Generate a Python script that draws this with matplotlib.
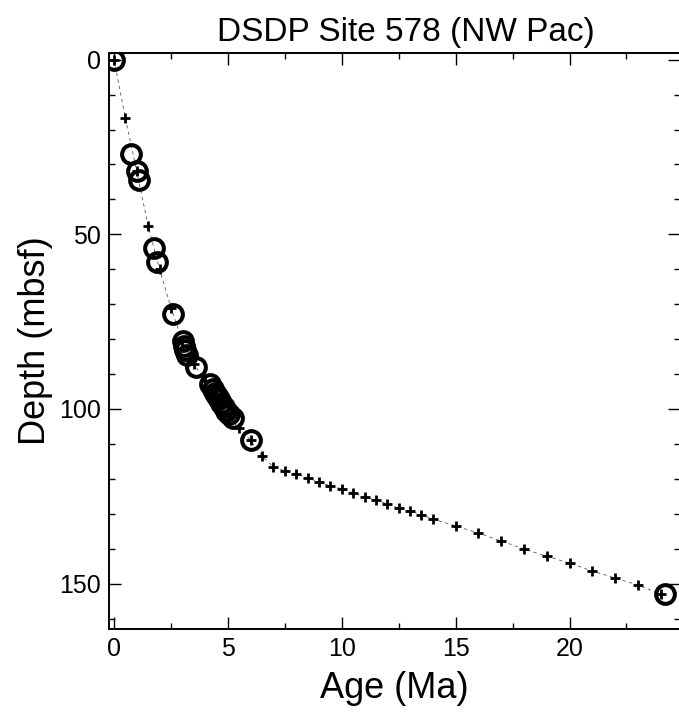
import numpy as np
import matplotlib
matplotlib.use("Agg")
import matplotlib.pyplot as plt
from matplotlib.ticker import MultipleLocator

# ── data ───────────────────────────────────────────────────────────────────────
# biostratigraphic / magnetostratigraphic datums (circles)
datum_age = [0.0, 0.75, 1.01, 1.10, 1.75, 1.89, 2.59, 3.03, 3.07, 3.11, 3.20,
             3.60, 4.21, 4.34, 4.43, 4.52, 4.61, 4.69, 4.82, 4.91, 5.04, 5.22,
             6.01, 24.17]
datum_depth = [0.0, 27.0, 31.9, 34.5, 53.9, 57.9, 72.8, 80.5, 82.0, 83.1, 84.5,
               88.0, 92.8, 94.3, 95.4, 96.3, 97.1, 98.3, 99.4, 100.6, 101.4, 102.6,
               108.9, 153.0]

# age model nodes (crosses)
model_age = [0.0, 0.5, 1.0, 1.5, 2.0, 2.5, 3.0, 3.5, 4.0, 4.5, 5.0, 5.5, 6.0,
             6.5, 7.0, 7.5, 8.0, 8.5, 9.0, 9.5, 10.0, 10.5, 11.0, 11.5, 12.0,
             12.5, 13.0, 13.5, 14.0, 15.0, 16.0, 17.0, 18.0, 19.0, 20.0, 21.0,
             22.0, 23.0, 24.0]
model_depth = [0.0, 16.7, 32.0, 47.6, 60.0, 71.0, 80.5, 87.0, 92.0, 97.0, 102.0,
               105.5, 109.0, 113.5, 116.6, 117.7, 118.6, 119.7, 120.9, 122.0,
               122.9, 124.0, 125.2, 126.1, 127.2, 128.4, 129.2, 130.3, 131.5,
               133.5, 135.5, 137.8, 140.1, 142.2, 144.1, 146.4, 148.4, 150.4,
               153.0]

plt.rcParams["font.family"] = ["Liberation Sans", "DejaVu Sans"]

fig = plt.figure(figsize=(6.79, 7.17), dpi=100)
ax = fig.add_axes([0.1605, 0.1227, 0.841, 0.8033])

ax.plot(model_age, model_depth, ls=(0, (4, 4)), lw=0.6, color="0.35", zorder=1)
ax.plot(model_age, model_depth, ls="none", marker="+", ms=7.5, mew=2.0,
        color="black", zorder=3)
ax.plot(datum_age, datum_depth, ls="none", marker="o", ms=13.5, mew=2.9,
        mfc="none", mec="black", zorder=2)

ax.set_xlim(-0.22, 24.85)
ax.set_ylim(163, -1.9)

ax.xaxis.set_major_locator(MultipleLocator(5))
ax.xaxis.set_minor_locator(MultipleLocator(2.5))
ax.yaxis.set_major_locator(MultipleLocator(50))
ax.yaxis.set_minor_locator(MultipleLocator(10))
ax.tick_params(which="both", direction="in", top=True, right=True,
               labelsize=18, width=1.0)
ax.tick_params(which="major", length=8.5, pad=6)
ax.tick_params(which="minor", length=4.3)
for s in ax.spines.values():
    s.set_linewidth(1.4)

ax.set_xlabel("Age (Ma)", fontsize=26, labelpad=7)
ax.set_ylabel("Depth (mbsf)", fontsize=26, labelpad=4)
ax.set_title("DSDP Site 578 (NW Pac)", fontsize=24, pad=9, x=0.52)

fig.savefig("out.png", dpi=100)
